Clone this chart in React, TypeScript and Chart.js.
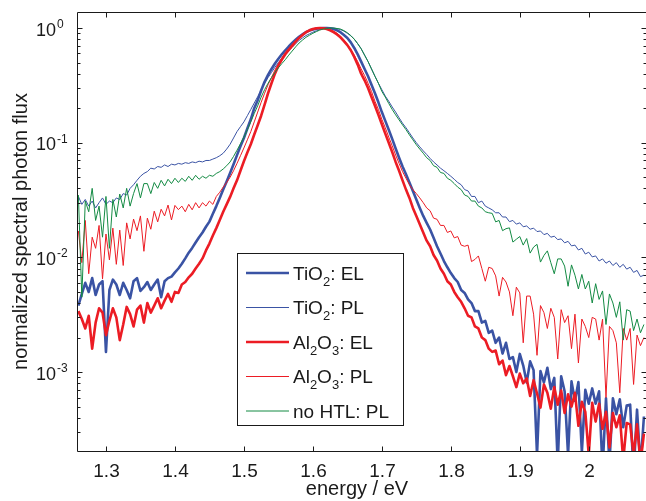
import React, { useEffect, useRef } from 'react';
import { Chart, registerables } from 'chart.js';

Chart.register(...registerables);

// photon energy (eV)
const energy: number[] = [
  1.26, 1.265, 1.27, 1.275, 1.28, 1.285, 1.29, 1.295, 1.3, 1.305,
  1.31, 1.315, 1.32, 1.325, 1.33, 1.335, 1.34, 1.345, 1.35, 1.355,
  1.36, 1.365, 1.37, 1.375, 1.38, 1.385, 1.39, 1.395, 1.4, 1.405,
  1.41, 1.415, 1.42, 1.425, 1.43, 1.435, 1.44, 1.445, 1.45, 1.455,
  1.46, 1.465, 1.47, 1.475, 1.48, 1.485, 1.49, 1.495, 1.5, 1.505,
  1.51, 1.515, 1.52, 1.525, 1.53, 1.535, 1.54, 1.545, 1.55, 1.555,
  1.56, 1.565, 1.57, 1.575, 1.58, 1.585, 1.59, 1.595, 1.6, 1.605,
  1.61, 1.615, 1.62, 1.625, 1.63, 1.635, 1.64, 1.645, 1.65, 1.655,
  1.66, 1.665, 1.67, 1.675, 1.68, 1.685, 1.69, 1.695, 1.7, 1.705,
  1.71, 1.715, 1.72, 1.725, 1.73, 1.735, 1.74, 1.745, 1.75, 1.755,
  1.76, 1.765, 1.77, 1.775, 1.78, 1.785, 1.79, 1.795, 1.8, 1.805,
  1.81, 1.815, 1.82, 1.825, 1.83, 1.835, 1.84, 1.845, 1.85, 1.855,
  1.86, 1.865, 1.87, 1.875, 1.88, 1.885, 1.89, 1.895, 1.9, 1.905,
  1.91, 1.915, 1.92, 1.925, 1.93, 1.935, 1.94, 1.945, 1.95, 1.955,
  1.96, 1.965, 1.97, 1.975, 1.98, 1.985, 1.99, 1.995, 2.0, 2.005,
  2.01, 2.015, 2.02, 2.025, 2.03, 2.035, 2.04, 2.045, 2.05, 2.055,
  2.06, 2.065, 2.07, 2.075, 2.08,
];

// TiO2: EL
const tio2EL: number[] = [
  0.0038, 0.0048, 0.006, 0.005, 0.0066, 0.0047, 0.0058, 0.0062, 0.0015, 0.0052,
  0.0064, 0.0058, 0.0047, 0.006, 0.0052, 0.0044, 0.0062, 0.0066, 0.0051, 0.0055,
  0.0061, 0.0052, 0.0058, 0.0064, 0.0045, 0.0062, 0.0066, 0.0068, 0.0074, 0.008,
  0.0088, 0.0098, 0.011, 0.0121, 0.0135, 0.015, 0.0165, 0.0185, 0.0205, 0.024,
  0.028, 0.033, 0.039, 0.046, 0.0545, 0.065, 0.078, 0.093, 0.11, 0.133,
  0.16, 0.2, 0.235, 0.285, 0.34, 0.39, 0.44, 0.49, 0.54, 0.59,
  0.64, 0.69, 0.74, 0.79, 0.84, 0.88, 0.92, 0.95, 0.97, 0.985,
  0.995, 1.0, 1.0, 0.995, 0.98, 0.955, 0.92, 0.87, 0.82, 0.75,
  0.67, 0.59, 0.51, 0.44, 0.38, 0.32, 0.27, 0.225, 0.185, 0.155,
  0.13, 0.108, 0.089, 0.074, 0.062, 0.053, 0.045, 0.038, 0.032, 0.027,
  0.023, 0.02, 0.0175, 0.0148, 0.0125, 0.0108, 0.0093, 0.0082, 0.0073, 0.0066,
  0.0061, 0.0052, 0.0049, 0.0043, 0.004, 0.0034, 0.0034, 0.0027, 0.0028, 0.0022,
  0.0023, 0.0018, 0.002, 0.00145, 0.0018, 0.0013, 0.00135, 0.001, 0.00144, 0.00114,
  0.00081, 0.00124, 0.00104, 0.00019, 0.00102, 0.00081, 0.00109, 0.00071, 0.00089, 0.00016,
  0.00092, 0.00068, 0.00019, 0.00083, 0.00056, 0.00082, 0.0002, 0.0007, 0.00053, 0.00072,
  0.00053, 0.00068, 0.00014, 0.00059, 0.00016, 0.00059, 0.00043, 0.00058, 0.00033, 0.00051,
  0.00052, 0.00013, 0.00047, 0.00015, 0.00041,
];

// TiO2: PL
const tio2PL: number[] = [
  0.034, 0.029, 0.032, 0.028, 0.031, 0.027, 0.03, 0.033, 0.029, 0.031,
  0.03, 0.033, 0.032, 0.036, 0.035, 0.04, 0.043, 0.047, 0.051, 0.054,
  0.056, 0.06, 0.059, 0.062, 0.061, 0.064, 0.062, 0.065, 0.064, 0.066,
  0.065, 0.067, 0.066, 0.068, 0.067, 0.069, 0.068, 0.07, 0.07, 0.072,
  0.074, 0.077, 0.081, 0.088, 0.097, 0.11, 0.125, 0.138, 0.152, 0.172,
  0.195, 0.222, 0.252, 0.288, 0.328, 0.37, 0.41, 0.455, 0.5, 0.545,
  0.59, 0.635, 0.68, 0.73, 0.78, 0.82, 0.86, 0.89, 0.92, 0.945,
  0.97, 0.985, 0.995, 1.0, 1.0, 0.99, 0.97, 0.94, 0.9, 0.855,
  0.8, 0.73, 0.66, 0.58, 0.51, 0.44, 0.38, 0.33, 0.29, 0.255,
  0.23, 0.205, 0.185, 0.165, 0.148, 0.135, 0.122, 0.11, 0.1, 0.092,
  0.085, 0.079, 0.073, 0.068, 0.064, 0.06, 0.057, 0.054, 0.051, 0.048,
  0.045, 0.043, 0.039, 0.038, 0.034, 0.034, 0.03, 0.031, 0.028, 0.027,
  0.026, 0.0245, 0.0245, 0.0225, 0.0225, 0.0205, 0.021, 0.0195, 0.02, 0.0185,
  0.0188, 0.0176, 0.018, 0.0168, 0.017, 0.0158, 0.0162, 0.015, 0.0153, 0.0143,
  0.0145, 0.0134, 0.0138, 0.0126, 0.0128, 0.0116, 0.012, 0.0107, 0.0111, 0.0101,
  0.0103, 0.0093, 0.0097, 0.0089, 0.0093, 0.0085, 0.009, 0.0082, 0.0087, 0.0079,
  0.0082, 0.0074, 0.0077, 0.0068, 0.007,
];

// Al2O3: EL
const al2o3EL: number[] = [
  0.0034, 0.0029, 0.0024, 0.0031, 0.0016, 0.0027, 0.0036, 0.0033, 0.0021, 0.0028,
  0.0036, 0.003, 0.0019, 0.0026, 0.0037, 0.0032, 0.0025, 0.0035, 0.0038, 0.0027,
  0.004, 0.0033, 0.0038, 0.0044, 0.0036, 0.0042, 0.0048, 0.0041, 0.005, 0.0049,
  0.0058, 0.0061, 0.0067, 0.0072, 0.008, 0.0088, 0.0098, 0.0115, 0.0132, 0.0155,
  0.018, 0.0212, 0.025, 0.029, 0.0337, 0.04, 0.047, 0.057, 0.069, 0.082,
  0.097, 0.118, 0.142, 0.172, 0.215, 0.27, 0.33, 0.4, 0.47, 0.53,
  0.59, 0.645, 0.7, 0.76, 0.82, 0.87, 0.92, 0.955, 0.98, 0.995,
  1.0, 0.995, 0.98, 0.955, 0.92, 0.88, 0.83, 0.77, 0.71, 0.64,
  0.56, 0.48, 0.4, 0.35, 0.3, 0.25, 0.21, 0.175, 0.145, 0.12,
  0.1, 0.083, 0.068, 0.057, 0.047, 0.039, 0.033, 0.027, 0.023, 0.0195,
  0.0165, 0.014, 0.0125, 0.0105, 0.0094, 0.008, 0.0072, 0.0062, 0.0058, 0.005,
  0.0045, 0.0041, 0.0036, 0.0031, 0.003, 0.0025, 0.0024, 0.002, 0.0019, 0.0016,
  0.0015, 0.00154, 0.00117, 0.00126, 0.00094, 0.00113, 0.00092, 0.00074, 0.00097, 0.0008,
  0.00088, 0.00062, 0.00085, 0.00065, 0.00049, 0.00078, 0.00066, 0.00048, 0.00074, 0.00052,
  0.00069, 0.00044, 0.00064, 0.0005, 0.00066, 0.00034, 0.00055, 0.00045, 0.00019, 0.00054,
  0.00037, 0.00053, 0.00032, 0.00045, 0.00022, 0.00044, 0.00033, 0.00042, 0.00017, 0.00036,
  0.00035, 0.00019, 0.00035, 0.00016, 0.00029,
];

// Al2O3: PL
const al2o3PL: number[] = [
  0.017, 0.009, 0.021, 0.0072, 0.015, 0.012, 0.019, 0.0065, 0.016, 0.0095,
  0.018, 0.0087, 0.0173, 0.0085, 0.02, 0.0145, 0.0216, 0.0171, 0.023, 0.0113,
  0.022, 0.0176, 0.0253, 0.0204, 0.0263, 0.023, 0.0286, 0.0212, 0.0284, 0.0261,
  0.028, 0.025, 0.029, 0.026, 0.03, 0.027, 0.03, 0.028, 0.031, 0.029,
  0.034, 0.037, 0.041, 0.045, 0.05, 0.057, 0.066, 0.077, 0.09, 0.106,
  0.125, 0.152, 0.185, 0.225, 0.27, 0.32, 0.37, 0.43, 0.49, 0.55,
  0.61, 0.665, 0.72, 0.775, 0.83, 0.87, 0.91, 0.945, 0.97, 0.99,
  1.0, 1.0, 0.99, 0.965, 0.94, 0.9, 0.85, 0.79, 0.72, 0.65,
  0.58, 0.51, 0.44, 0.385, 0.33, 0.28, 0.23, 0.195, 0.16, 0.135,
  0.112, 0.094, 0.078, 0.066, 0.056, 0.049, 0.043, 0.039, 0.036, 0.033,
  0.03, 0.027, 0.0255, 0.022, 0.0215, 0.019, 0.019, 0.0165, 0.017, 0.0148,
  0.0152, 0.0128, 0.0125, 0.0128, 0.0092, 0.0096, 0.0103, 0.008, 0.0062, 0.0082,
  0.008, 0.0069, 0.0046, 0.0067, 0.0061, 0.005, 0.0031, 0.0055, 0.0049, 0.0018,
  0.0046, 0.0046, 0.0032, 0.0014, 0.0038, 0.0033, 0.0024, 0.0036, 0.003, 0.0013,
  0.0035, 0.0027, 0.0031, 0.0016, 0.0032, 0.0012, 0.0029, 0.0025, 0.002, 0.003,
  0.0029, 0.0019, 0.0029, 0.0006, 0.0025, 0.0023, 0.0018, 0.00066, 0.0024, 0.0019,
  0.0024, 0.00078, 0.0021, 0.0017, 0.002,
];

// no HTL: PL
const noHtlPL: number[] = [
  0.035, 0.0045, 0.031, 0.025, 0.04, 0.021, 0.028, 0.015, 0.034, 0.012,
  0.032, 0.0225, 0.0357, 0.027, 0.04, 0.028, 0.036, 0.044, 0.033, 0.044,
  0.044, 0.036, 0.045, 0.04, 0.047, 0.042, 0.048, 0.044, 0.049, 0.045,
  0.049, 0.046, 0.051, 0.047, 0.052, 0.048, 0.051, 0.049, 0.052, 0.051,
  0.054, 0.056, 0.059, 0.063, 0.068, 0.076, 0.086, 0.098, 0.112, 0.13,
  0.152, 0.18, 0.21, 0.25, 0.29, 0.33, 0.37, 0.41, 0.45, 0.49,
  0.53, 0.58, 0.63, 0.685, 0.74, 0.785, 0.83, 0.865, 0.9, 0.93,
  0.96, 0.98, 0.99, 1.0, 1.0, 0.99, 0.98, 0.95, 0.91, 0.86,
  0.8, 0.73, 0.66, 0.58, 0.51, 0.44, 0.38, 0.33, 0.28, 0.25,
  0.22, 0.195, 0.175, 0.158, 0.143, 0.13, 0.117, 0.106, 0.096, 0.088,
  0.081, 0.074, 0.07, 0.063, 0.061, 0.055, 0.054, 0.049, 0.047, 0.044,
  0.041, 0.039, 0.035, 0.034, 0.031, 0.031, 0.028, 0.027, 0.025, 0.0245,
  0.0242, 0.0204, 0.021, 0.0171, 0.0178, 0.0181, 0.0136, 0.0144, 0.0152, 0.0128,
  0.0146, 0.0109, 0.0123, 0.013, 0.0091, 0.0104, 0.0114, 0.009, 0.0072, 0.0097,
  0.0097, 0.0084, 0.0056, 0.0086, 0.007, 0.0053, 0.0071, 0.0053, 0.0062, 0.004,
  0.0059, 0.0043, 0.0051, 0.0026, 0.0048, 0.004, 0.003, 0.0041, 0.0019, 0.0035,
  0.0034, 0.0023, 0.0029, 0.0022, 0.0026,
];

const seriesLabels: string[] = ['TiO₂: EL', 'TiO₂: PL', 'Al₂O₃: EL', 'Al₂O₃: PL', 'no HTL: PL'];
const seriesValues: number[][] = [tio2EL, tio2PL, al2o3EL, al2o3PL, noHtlPL];
const seriesColors: string[] = ['#3a53a4', '#3a53a4', '#ec1c24', '#ec1c24', '#138a43'];
const seriesWidths: number[] = [2.6, 1, 2.6, 1, 1];

const xTicks: number[] = [1.3, 1.4, 1.5, 1.6, 1.7, 1.8, 1.9, 2.0];
const xTickLabels: string[] = ['1.3', '1.4', '1.5', '1.6', '1.7', '1.8', '1.9', '2'];
const yTicks: number[] = [1e-3, 1e-2, 1e-1, 1];
const yTickExponents: string[] = ['-3', '-2', '-1', '0'];
const xTitle = 'energy / eV';
const yTitle = 'normalized spectral photon flux';

const FF = '"Liberation Sans", Arial, Helvetica, sans-serif';
const SUBS: Record<string, string> = { '₂': '2', '₃': '3' };

function drawRich(ctx: CanvasRenderingContext2D, text: string, x: number, baseline: number, size: number, subSize: number, drop: number) {
  let cx = x;
  const runs: { t: string; sub: boolean }[] = [];
  for (const ch of text) {
    const sub = SUBS[ch] !== undefined;
    const c = sub ? SUBS[ch] : ch;
    if (runs.length && runs[runs.length - 1].sub === sub) runs[runs.length - 1].t += c;
    else runs.push({ t: c, sub });
  }
  ctx.textAlign = 'left';
  ctx.textBaseline = 'alphabetic';
  for (const r of runs) {
    ctx.font = `${r.sub ? subSize : size}px ${FF}`;
    ctx.fillText(r.t, cx, r.sub ? baseline + drop : baseline);
    cx += ctx.measureText(r.t).width;
  }
}

const decor = {
  id: 'decor',
  afterDraw(chart: any) {
    const { ctx, chartArea: a, scales } = chart;
    const xs = scales.x;
    const ys = scales.y;
    ctx.save();
    ctx.strokeStyle = '#1a1a1a';
    ctx.lineWidth = 1;
    const L = Math.round(a.left) + 0.5;
    const T = Math.round(a.top) + 0.5;
    const R = Math.round(a.right) + 0.5;
    const B = Math.round(a.bottom) + 0.5;
    const seg = (x1: number, y1: number, x2: number, y2: number) => {
      ctx.beginPath();
      ctx.moveTo(x1, y1);
      ctx.lineTo(x2, y2);
      ctx.stroke();
    };
    // box
    seg(L, T, R, T);
    seg(L, B, R, B);
    seg(L, T, L, B);
    seg(R, T, R, B);
    // x ticks
    ctx.fillStyle = '#1a1a1a';
    xTicks.forEach((v, i) => {
      const px = Math.round(xs.getPixelForValue(v)) + 0.5;
      seg(px, B, px, B - 5);
      seg(px, T, px, T + 5);
      ctx.font = `19px ${FF}`;
      ctx.textAlign = 'center';
      ctx.textBaseline = 'alphabetic';
      ctx.fillText(xTickLabels[i], px, 477);
    });
    // y ticks (major + minor)
    for (let k = -4; k <= 0; k++) {
      for (let m = 1; m <= 9; m++) {
        const v = m * Math.pow(10, k);
        if (v < ys.min || v > ys.max) continue;
        const py = Math.round(ys.getPixelForValue(v)) + 0.5;
        const len = m === 1 ? 5 : 3;
        seg(L, py, L + len, py);
        seg(R, py, R - len, py);
      }
    }
    yTicks.forEach((v, i) => {
      const py = ys.getPixelForValue(v);
      ctx.textBaseline = 'alphabetic';
      ctx.font = `18px ${FF}`;
      ctx.textAlign = 'right';
      ctx.fillText('10', 56, py + 7.5);
      ctx.font = `12px ${FF}`;
      ctx.textAlign = 'left';
      ctx.fillText(yTickExponents[i], 57, py);
    });
    // axis titles
    ctx.font = `20px ${FF}`;
    ctx.textAlign = 'center';
    ctx.textBaseline = 'alphabetic';
    ctx.fillText(xTitle, 357, 495);
    ctx.save();
    ctx.translate(27, (a.top + a.bottom) / 2);
    ctx.rotate(-Math.PI / 2);
    ctx.fillText(yTitle, 0, 0);
    ctx.restore();
    // legend
    const bx = 237.5, by = 253.5, bw = 166, bh = 172;
    ctx.fillStyle = '#ffffff';
    ctx.fillRect(bx, by, bw, bh);
    ctx.strokeStyle = '#1a1a1a';
    ctx.strokeRect(bx, by, bw, bh);
    chart.data.datasets.forEach((ds: any, i: number) => {
      const ly = by + 19.5 + i * 34.5;
      ctx.strokeStyle = ds.borderColor;
      ctx.lineWidth = ds.borderWidth;
      seg(246, ly, 289, ly);
      ctx.fillStyle = '#1a1a1a';
      drawRich(ctx, ds.label, 293, ly + 6.5, 19, 13, 6);
    });
    ctx.restore();
  },
};

export default function App() {
  const ref = useRef<HTMLCanvasElement>(null);
  useEffect(() => {
    const canvas = ref.current;
    if (!canvas) return;
    const datasets = seriesValues.map((vals, i) => ({
      label: seriesLabels[i],
      data: energy.map((e, j) => ({ x: e, y: vals[j] })),
      borderColor: seriesColors[i],
      backgroundColor: seriesColors[i],
      borderWidth: seriesWidths[i],
      pointRadius: 0,
      tension: 0,
      fill: false,
      borderJoinStyle: 'round' as const,
      order: seriesValues.length - i,
      clip: 0,
    }));
    const chart = new Chart(canvas, {
      type: 'line',
      data: { datasets },
      options: {
        responsive: false,
        animation: false,
        devicePixelRatio: 1,
        events: [],
        layout: { padding: { top: 12, right: 0, bottom: 0, left: 0 } },
        plugins: { legend: { display: false }, tooltip: { enabled: false }, title: { display: false } },
        scales: {
          x: {
            type: 'linear',
            bounds: 'data',
            min: 1.258,
            max: 2.083,
            grid: { display: false },
            border: { display: false },
            ticks: { display: false },
            afterBuildTicks: (s: any) => {
              s.ticks = xTicks.map((v) => ({ value: v }));
            },
            afterFit: (s: any) => {
              s.height = 50;
            },
          },
          y: {
            type: 'logarithmic',
            bounds: 'data',
            min: 2.05e-4,
            max: 1.38,
            grid: { display: false },
            border: { display: false },
            ticks: { display: false },
            afterBuildTicks: (s: any) => {
              s.ticks = yTicks.map((v) => ({ value: v }));
            },
            afterFit: (s: any) => {
              s.width = 77;
            },
          },
        },
      } as any,
      plugins: [decor],
    });
    return () => chart.destroy();
  }, []);
  return (
    <div style={{ position: 'absolute', left: 0, top: 0, width: 646, height: 501, background: '#fff' }}>
      <canvas ref={ref} width={646} height={501} style={{ display: 'block', width: 646, height: 501 }} />
    </div>
  );
}
